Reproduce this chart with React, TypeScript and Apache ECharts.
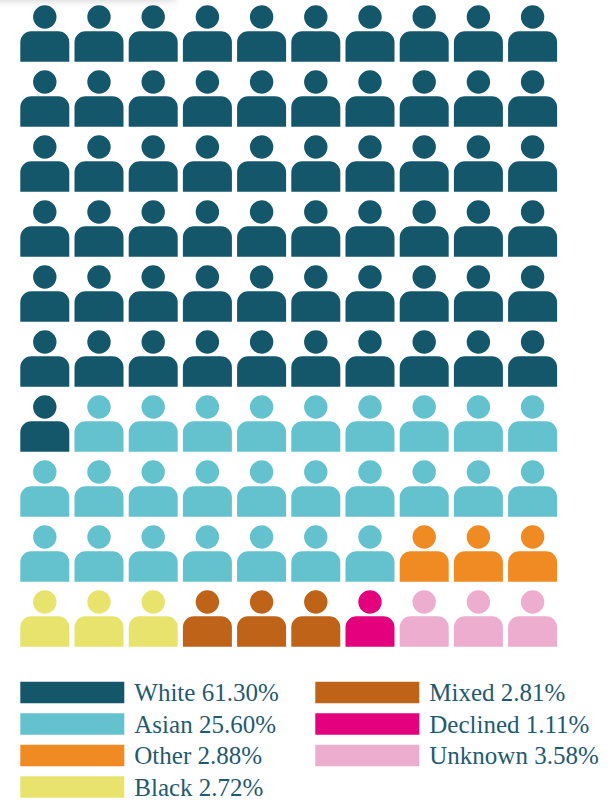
import React, { useEffect, useRef } from "react";
import * as echarts from "echarts";

const categories = ["White", "Asian", "Other", "Black", "Mixed", "Declined", "Unknown"];
const percentages = ["61.30%", "25.60%", "2.88%", "2.72%", "2.81%", "1.11%", "3.58%"];
const icons = [61, 26, 3, 3, 3, 1, 3];
const colors = ["#14566A", "#63C2CD", "#F08A22", "#E7E36C", "#BE6317", "#E4007C", "#ECADCE"];
const columns = 10;
const rows = 10;
const personPath =
  "path://M24.5 0A11.7 11.7 0 1 1 24.5 23.4A11.7 11.7 0 1 1 24.5 0Z" +
  "M11 26H38A11 11 0 0 1 49 37V56.4H0V37A11 11 0 0 1 11 26Z";

const names = categories.map((c, i) => `${c} ${percentages[i]}`);

function buildSeries() {
  let n = 0;
  return names.map((name, i) => {
    const data: number[][] = [];
    for (let k = 0; k < icons[i]; k++, n++) {
      data.push([n % columns, Math.floor(n / columns)]);
    }
    return {
      type: "scatter",
      name,
      data,
      symbol: personPath,
      symbolSize: [49, 56.4],
      itemStyle: { color: colors[i], opacity: 1 },
      emphasis: { disabled: true },
      silent: true,
    };
  });
}

const legendBase = {
  orient: "vertical",
  icon: "rect",
  top: 680,
  height: 140,
  padding: 0,
  itemWidth: 104,
  itemHeight: 21.5,
  itemGap: 6.5,
  selectedMode: false,
  formatter: (name: string) => `{t|${name}}`,
  textStyle: {
    rich: {
      t: {
        fontFamily: "'Liberation Serif', serif",
        fontSize: 25,
        lineHeight: 21.5,
        height: 21.5,
        color: "#1F5A70",
        padding: [0, 0, 0, 5],
      },
    },
  },
};

export default function App() {
  const ref = useRef<HTMLDivElement>(null);
  useEffect(() => {
    document.body.style.margin = "0";
    const chart = echarts.init(ref.current!, undefined, { renderer: "svg" });
    chart.setOption({
      animation: false,
      backgroundColor: "#FFFFFF",
      tooltip: { show: false },
      grid: { left: 44.8, top: 33.5, width: 487.8, height: 585 },
      xAxis: { type: "value", min: 0, max: columns - 1, show: false },
      yAxis: { type: "value", min: 0, max: rows - 1, inverse: true, show: false },
      legend: [
        { ...legendBase, left: 20.3, data: names.slice(0, 4) },
        { ...legendBase, left: 315.3, data: names.slice(4) },
      ],
      series: buildSeries(),
      graphic: [
        {
          type: "rect",
          silent: true,
          shape: { x: -30, y: -20, width: 205, height: 18 },
          style: {
            fill: "#FFFFFF",
            shadowBlur: 10,
            shadowColor: "rgba(0,0,0,0.25)",
            shadowOffsetY: 1,
          },
        },
      ],
    });
    return () => chart.dispose();
  }, []);
  return <div ref={ref} style={{ width: 609, height: 801 }} />;
}
